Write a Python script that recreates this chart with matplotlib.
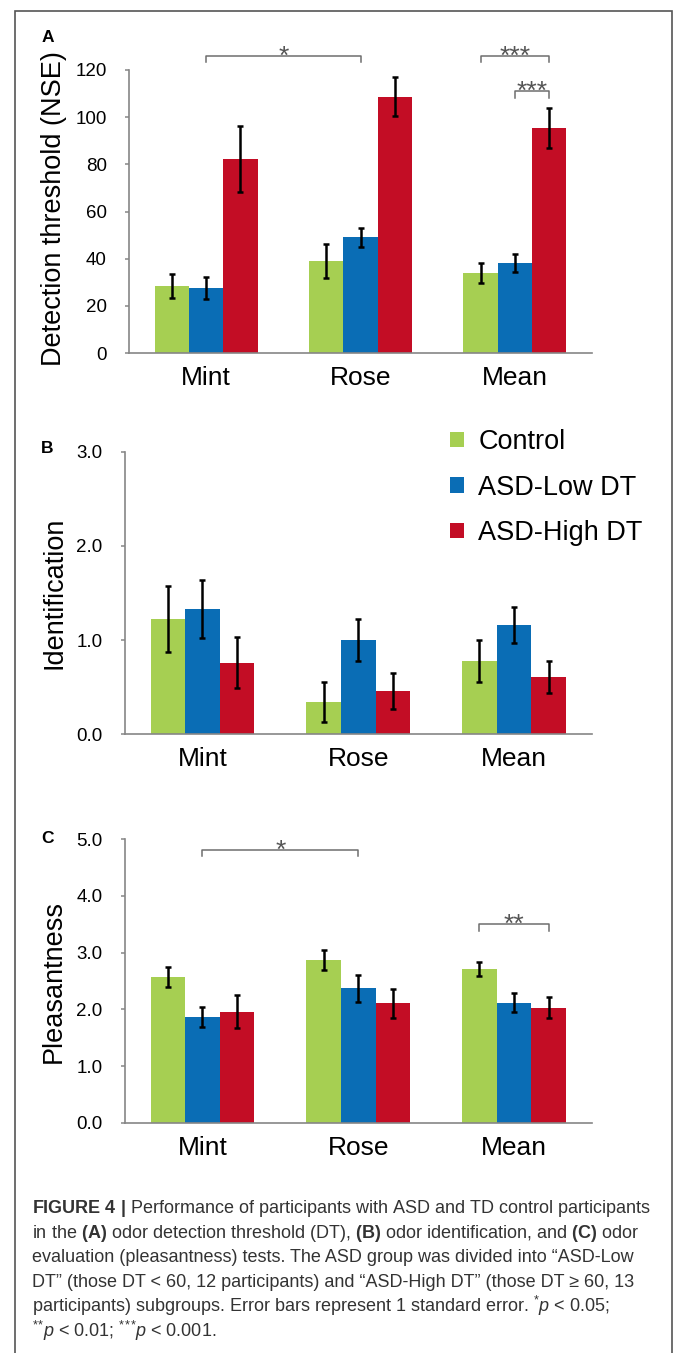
import numpy as np
import matplotlib.pyplot as plt
from matplotlib.patches import Rectangle

plt.rcParams['font.family'] = ['Liberation Sans', 'DejaVu Sans']
plt.rcParams['mathtext.fontset'] = 'custom'
plt.rcParams['mathtext.rm'] = 'Liberation Sans'
plt.rcParams['mathtext.it'] = 'Liberation Sans:italic'
plt.rcParams['mathtext.bf'] = 'Liberation Sans:bold'

# categories and groups
odors = ['Mint', 'Rose', 'Mean']
groups = ['Control', 'ASD-Low DT', 'ASD-High DT']
colors = ['#A6CF52', '#0A6DB5', '#C30D25']

# (A) detection threshold, rows = groups, cols = odors
dt_mean = [[28.5, 39.1, 33.9], [27.5, 49.1, 38.1], [82.2, 108.6, 95.4]]
dt_se = [[5.0, 7.3, 4.3], [4.7, 4.0, 3.9], [14.0, 8.3, 8.3]]

# (B) identification
id_mean = [[1.22, 0.34, 0.78], [1.33, 1.00, 1.16], [0.76, 0.46, 0.61]]
id_se = [[0.35, 0.21, 0.22], [0.31, 0.22, 0.19], [0.27, 0.19, 0.17]]

# (C) pleasantness
pl_mean = [[2.57, 2.87, 2.71], [1.86, 2.37, 2.12], [1.96, 2.11, 2.03]]
pl_se = [[0.175, 0.18, 0.13], [0.18, 0.235, 0.16], [0.285, 0.255, 0.19]]

# significance brackets: (x1, x2, y line, y tick end, label)
w = 0.222
dt_sig = [(0, 1, 126.0, 123.4, '*'),
          (2 - w, 2 + w, 126.0, 123.4, '***'),
          (2, 2 + w, 111.1, 108.1, '***')]
pl_sig = [(0, 1, 4.81, 4.70, '*'),
          (2 - w, 2 + w, 3.50, 3.39, '**')]

W, H = 673, 1353
fig = plt.figure(figsize=(W / 100, H / 100), dpi=100)


def px_axes(left, right, bottom, top):
    return fig.add_axes([left / W, 1 - bottom / H, (right - left) / W, (bottom - top) / H])


def draw_panel(ax, means, ses, ylim, yticks, fmt):
    x = np.arange(len(odors))
    bars = []
    for i, g in enumerate(groups):
        xs = x + (i - 1) * w
        b = ax.bar(xs, means[i], width=w, color=colors[i], label=g, zorder=2)
        ax.errorbar(xs, means[i], yerr=ses[i], fmt='none', ecolor='black',
                    elinewidth=1.8, capsize=2.2, capthick=1.8, zorder=3)
        bars.append(b)
    ax.set_xlim(-0.5, 2.5)
    ax.set_ylim(*ylim)
    ax.set_yticks(yticks)
    ax.set_yticklabels([fmt.format(t) for t in yticks])
    ax.set_xticks(x)
    ax.set_xticklabels(odors, fontsize=19)
    ax.tick_params(axis='x', length=0, pad=9.5)
    ax.tick_params(axis='y', length=3, width=1.1, color='#868686', pad=13, labelsize=13.5)
    for s in ['top', 'right']:
        ax.spines[s].set_visible(False)
    for s in ['left', 'bottom']:
        ax.spines[s].set_color('#868686')
        ax.spines[s].set_linewidth(1.2)
    return bars


def draw_sig(ax, sigs):
    for x1, x2, y, yt, lab in sigs:
        ax.plot([x1, x1, x2, x2], [yt, y, y, yt], color='#6e6e6e', lw=1.1,
                clip_on=False, zorder=4)
        ax.annotate(lab, xy=((x1 + x2) / 2, y), xytext=(0, -5.5),
                    textcoords='offset points', ha='center', va='baseline',
                    fontsize=19, color='#555555', annotation_clip=False)


axA = px_axes(129, 592, 353, 70)
draw_panel(axA, dt_mean, dt_se, (0, 120), [0, 20, 40, 60, 80, 100, 120], '{:.0f}')
draw_sig(axA, dt_sig)

axB = px_axes(124.5, 592, 734.3, 451.7)
barsB = draw_panel(axB, id_mean, id_se, (0, 3), [0, 1, 2, 3], '{:.1f}')

axC = px_axes(124.5, 592, 1122.7, 839.3)
draw_panel(axC, pl_mean, pl_se, (0, 5), [0, 1, 2, 3, 4, 5], '{:.1f}')
draw_sig(axC, pl_sig)

axB.legend(barsB, groups, loc='upper left', bbox_to_anchor=(450 / W, 1 - 429 / H),
           bbox_transform=fig.transFigure, frameon=False, fontsize=19.5,
           handlelength=0.5, handleheight=0.5, handletextpad=0.55,
           labelspacing=0.72, borderpad=0, borderaxespad=0)

# y labels
for label, yc in [('Detection threshold (NSE)', 208.5), ('Identification', 593),
                  ('Pleasantness', 981.7)]:
    fig.text(54 / W, 1 - yc / H, label, rotation=90, ha='center', va='center',
             fontsize=19.5)

# panel letters
for letter, xl, yb in [('A', 42, 41.7), ('B', 41, 452.7), ('C', 41, 842.7)]:
    fig.text(xl / W, 1 - yb / H, letter, fontsize=12.5, fontweight='bold',
             ha='left', va='baseline')

# frame around the figure
fig.patches.append(Rectangle((15 / W, -0.05), (671.5 - 15) / W, 1 - 11 / H + 0.05,
                             transform=fig.transFigure, fill=False,
                             edgecolor='#555555', linewidth=1.2))

# caption
caption = [
    r'$\mathbf{FIGURE\ 4\ |}$ Performance of participants with ASD and TD control participants',
    r'in the $\mathbf{(A)}$ odor detection threshold (DT), $\mathbf{(B)}$ odor identification, and $\mathbf{(C)}$ odor',
    'evaluation (pleasantness) tests. The ASD group was divided into \u201cASD-Low',
    'DT\u201d (those DT < 60, 12 participants) and \u201cASD-High DT\u201d (those DT \u2265 60, 13',
    r'participants) subgroups. Error bars represent 1 standard error. ${}^{*}\mathit{p}$ < 0.05;',
    r'${}^{*}{}^{*}\mathit{p}$ < 0.01; ${}^{*}{}^{*}{}^{*}\mathit{p}$ < 0.001.',
]
for k, line in enumerate(caption):
    fig.text(32 / W, 1 - (1212.7 + 24.9 * k) / H, line, fontsize=13.0,
             color='#333333', ha='left', va='baseline')

fig.savefig('out.png', dpi=100)
